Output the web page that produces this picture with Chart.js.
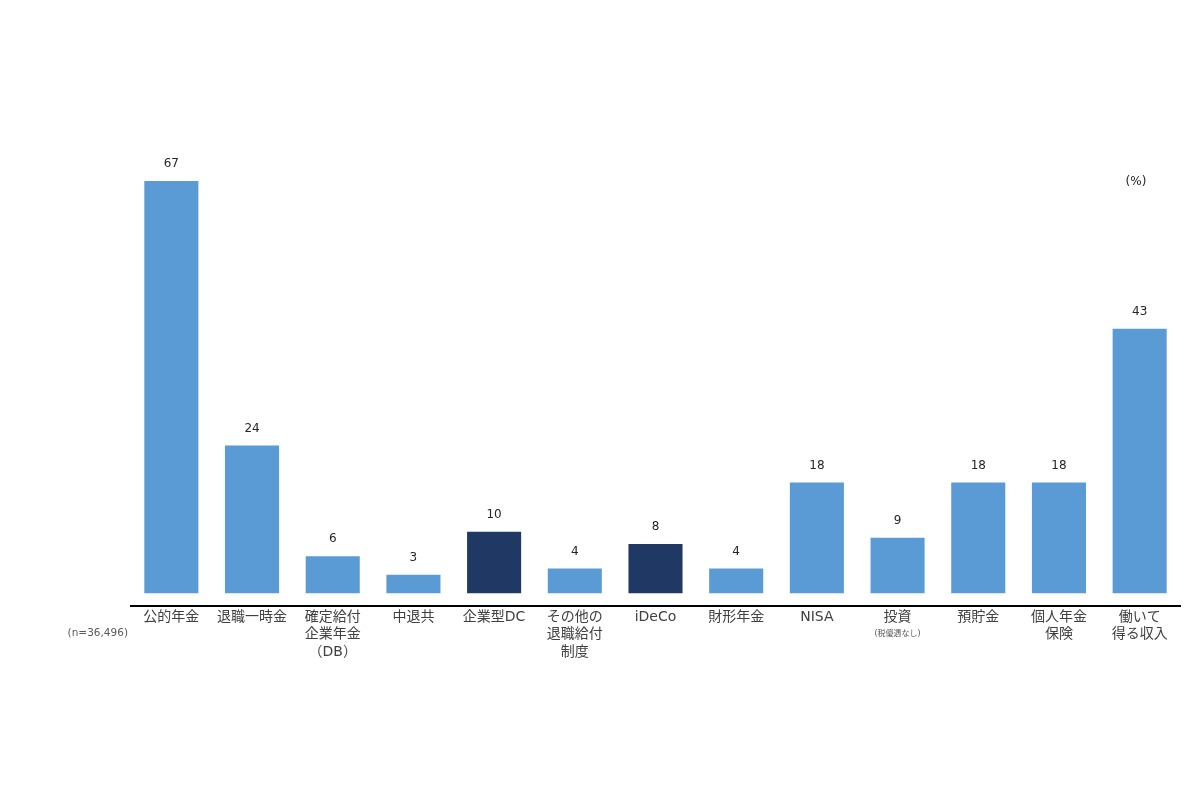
<!DOCTYPE html>
<html>
<head>
<meta charset="utf-8">
<script src="https://cdn.jsdelivr.net/npm/chart.js@4"></script>
<style>
  html, body { margin: 0; padding: 0; background: #fff; }
  #wrap { width: 1200px; height: 800px; position: relative; }
</style>
</head>
<body>
<div id="wrap"><canvas id="c" width="1200" height="800"></canvas></div>
<script>
  var categories = [
    ["公的年金"], ["退職一時金"], ["確定給付", "企業年金", "（DB）"], ["中退共"], ["企業型DC"],
    ["その他の", "退職給付", "制度"], ["iDeCo"], ["財形年金"], ["NISA"], ["投資"],
    ["預貯金"], ["個人年金", "保険"], ["働いて", "得る収入"]
  ];
  var values = [67, 24, 6, 3, 10, 4, 8, 4, 18, 9, 18, 18, 43];
  var highlighted = [4, 6]; // 企業型DC, iDeCo
  var sampleNote = "(n=36,496)";
  var unitNote = "(%)";
  var subNotes = { 9: "(税優遇なし)" };

  // Verdana-like Latin glyphs, CJK falls through to Noto
  var FONT = "'DejaVu Sans', 'Noto Sans CJK JP', sans-serif";
  var LIGHT = "#5b9bd5";
  var DARK = "#203864";

  var annotations = {
    id: "annotations",
    afterDatasetsDraw: function (chart) {
      var ctx = chart.ctx;
      var meta = chart.getDatasetMeta(0);
      ctx.save();
      ctx.fillStyle = "#262626";
      ctx.font = "12px " + FONT;
      ctx.textAlign = "center";
      ctx.textBaseline = "bottom";
      meta.data.forEach(function (bar, i) {
        ctx.fillText(String(values[i]), bar.x, bar.y - 11);
      });
      var xs = chart.scales.x;
      var noteY = chart.chartArea.bottom + 28;
      ctx.font = "8px " + FONT;
      ctx.fillStyle = "#595959";
      ctx.textBaseline = "middle";
      Object.keys(subNotes).forEach(function (k) {
        ctx.fillText(subNotes[k], xs.getPixelForValue(Number(k)), noteY);
      });
      ctx.font = "10.5px " + FONT;
      ctx.textAlign = "right";
      ctx.fillText(sampleNote, 128, noteY);
      ctx.font = "12px " + FONT;
      ctx.fillStyle = "#262626";
      ctx.textAlign = "center";
      ctx.fillText(unitNote, 1136, 182);
      ctx.restore();
    }
  };

  new Chart(document.getElementById("c"), {
    type: "bar",
    data: {
      labels: categories,
      datasets: [{
        data: values,
        backgroundColor: values.map(function (v, i) {
          return highlighted.indexOf(i) >= 0 ? DARK : LIGHT;
        }),
        categoryPercentage: 1,
        barPercentage: 0.67
      }]
    },
    options: {
      responsive: false,
      animation: false,
      layout: { padding: { left: 131, right: 20, top: 101, bottom: 136 } },
      plugins: { legend: { display: false }, tooltip: { enabled: false } },
      scales: {
        y: { display: false, min: -2, max: 80 },
        x: {
          grid: { display: false, drawTicks: false },
          border: { display: true, color: "#000", width: 2 },
          ticks: {
            color: "#404040",
            padding: 3,
            maxRotation: 0,
            autoSkip: false,
            font: { family: FONT, size: 14, lineHeight: 1.25 }
          }
        }
      }
    },
    plugins: [annotations]
  });
</script>
</body>
</html>
